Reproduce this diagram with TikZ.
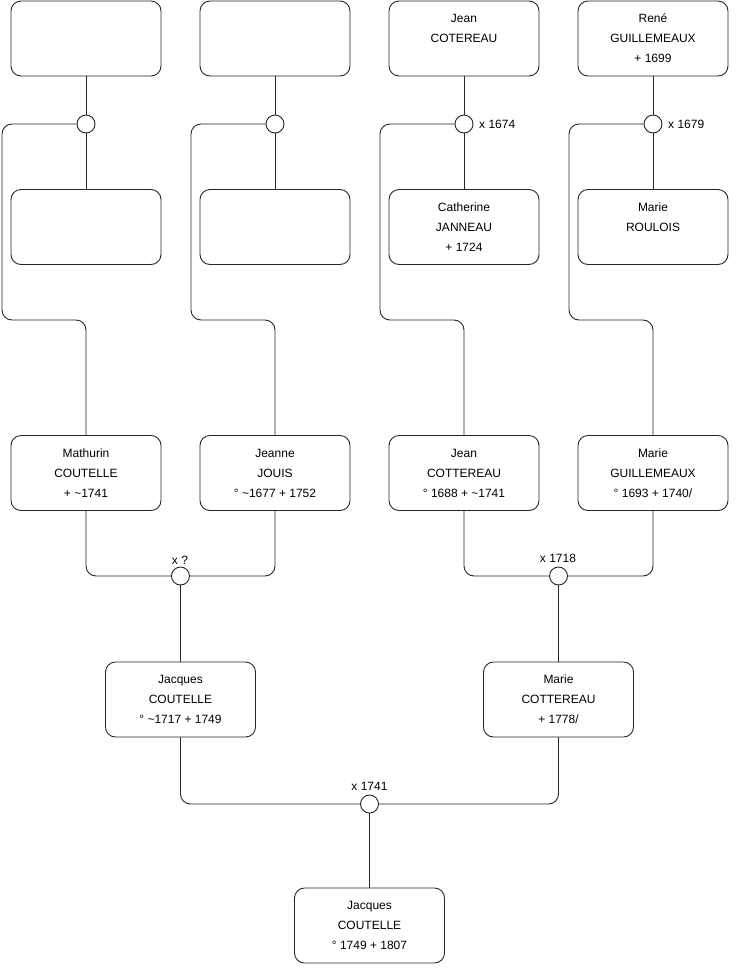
\documentclass[tikz,border=0pt]{standalone}
\usepackage{fontspec}
\setmainfont{Liberation Sans}
\begin{document}
\begin{tikzpicture}[x=1pt,y=-1pt,
  person/.style={draw=black!85, line width=0.9pt, rounded corners=10pt, minimum width=150pt, minimum height=75pt, align=center, inner sep=0pt, font=\fontsize{12}{20}\selectfont},
  wed/.style={draw=black!85, line width=0.9pt, circle, minimum size=18pt, inner sep=0pt, fill=white},
  link/.style={draw=black!85, line width=0.9pt},
  lbl/.style={font=\fontsize{12}{14}\selectfont, inner sep=0pt}]
\useasboundingbox (0,0) rectangle (740,975);
% top row
\node[person] (t1) at (86,38.5) {};
\node[person] (t2) at (275,38.5) {};
\node[person] (t3) at (464,38.5) {Jean\\COTEREAU\\~};
\node[person] (t4) at (653,38.5) {René\\GUILLEMEAUX\\+ 1699};
% second row
\node[person] (s1) at (86,227) {};
\node[person] (s2) at (275,227) {};
\node[person] (s3) at (464,227) {Catherine\\JANNEAU\\+ 1724};
\node[person] (s4) at (653,227) {Marie\\ROULOIS\\~};
% third row
\node[person] (p1) at (86,473) {Mathurin\\COUTELLE\\+ \textasciitilde1741};
\node[person] (p2) at (275,473) {Jeanne\\JOUIS\\° \textasciitilde1677 + 1752};
\node[person] (p3) at (464,473) {Jean\\COTTEREAU\\° 1688 + \textasciitilde1741};
\node[person] (p4) at (653,473) {Marie\\GUILLEMEAUX\\° 1693 + 1740/};
% fourth row
\node[person] (q1) at (180.5,699.5) {Jacques\\COUTELLE\\° \textasciitilde1717 + 1749};
\node[person] (q2) at (558.5,699.5) {Marie\\COTTEREAU\\+ 1778/};
% bottom
\node[person] (b) at (369.5,925.5) {Jacques\\COUTELLE\\° 1749 + 1807};
% marriage circles
\node[wed] (c1) at (86,124) {};
\node[wed] (c2) at (275,124) {};
\node[wed] (c3) at (464,124) {};
\node[wed] (c4) at (653,124) {};
\node[wed] (m1) at (180.5,576) {};
\node[wed] (m2) at (558.5,576) {};
\node[wed] (m3) at (369.5,804) {};
% labels
\node[lbl, anchor=west] (l3) at (479,124) {x 1674};
\node[lbl, anchor=west] (l4) at (668,124) {x 1679};
\node[lbl] (lm1) at (180,560) {x ?};
\node[lbl] (lm2) at (558,558) {x 1718};
\node[lbl] (lm3) at (369.5,786) {x 1741};
% vertical connectors top
\foreach \i in {1,2,3,4}{
  \draw[link] (t\i.south) -- (c\i.north);
  \draw[link] (c\i.south) -- (s\i.north);
}
% child links
\draw[link, rounded corners=10pt] (c1.west) -| (2,320) -| (p1.north);
\draw[link, rounded corners=10pt] (c2.west) -| (191,320) -| (p2.north);
\draw[link, rounded corners=10pt] (c3.west) -| (380,320) -| (p3.north);
\draw[link, rounded corners=10pt] (c4.west) -| (569,320) -| (p4.north);
% marriages lower
\draw[link, rounded corners=10pt] (p1.south) |- (m1.west);
\draw[link, rounded corners=10pt] (p2.south) |- (m1.east);
\draw[link] (m1.south) -- (q1.north);
\draw[link, rounded corners=10pt] (p3.south) |- (m2.west);
\draw[link, rounded corners=10pt] (p4.south) |- (m2.east);
\draw[link] (m2.south) -- (q2.north);
\draw[link, rounded corners=10pt] (q1.south) |- (m3.west);
\draw[link, rounded corners=10pt] (q2.south) |- (m3.east);
\draw[link] (m3.south) -- (b.north);
\end{tikzpicture}
\end{document}
